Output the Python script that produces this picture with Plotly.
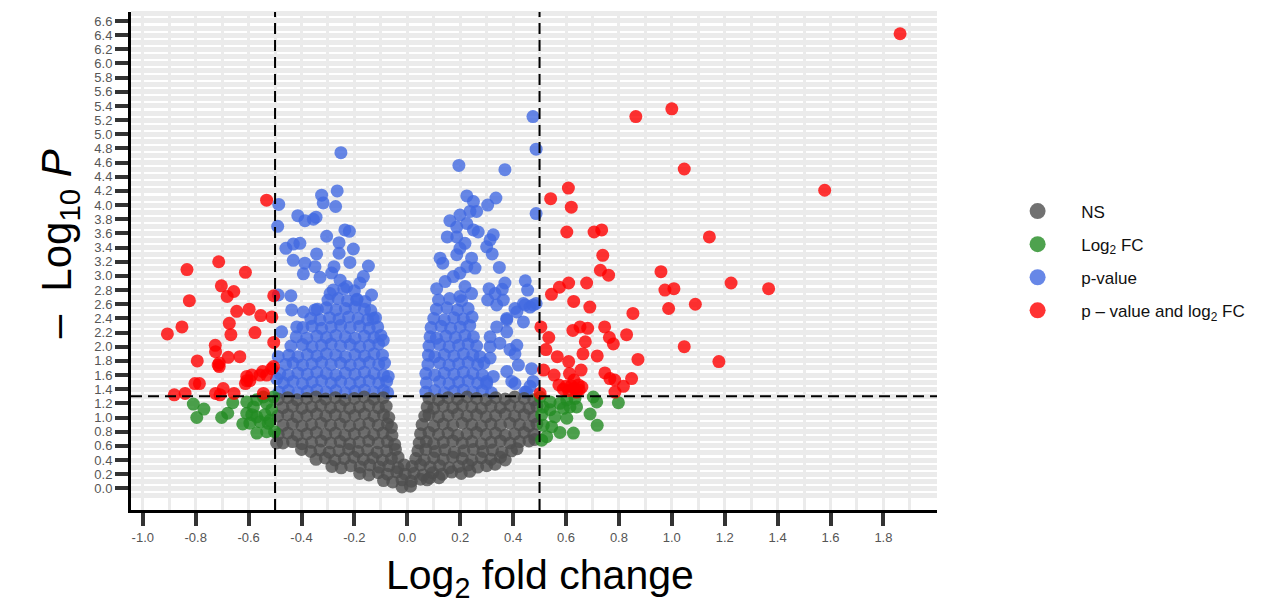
import plotly.graph_objects as go

# ---------------- data ----------------
fc_cutoff = 0.5
p_cutoff = 0.05
p_line = 1.30103  # -log10(0.05)

x_tick_vals = [-1.0, -0.8, -0.6, -0.4, -0.2, 0.0, 0.2, 0.4, 0.6, 0.8, 1.0, 1.2, 1.4, 1.6, 1.8]
x_tick_text = ["-1.0", "-0.8", "-0.6", "-0.4", "-0.2", "0.0", "0.2", "0.4", "0.6", "0.8",
               "1.0", "1.2", "1.4", "1.6", "1.8"]
y_tick_vals = [0.0, 0.2, 0.4, 0.6, 0.8, 1.0, 1.2, 1.4, 1.6, 1.8, 2.0, 2.2, 2.4, 2.6, 2.8, 3.0,
               3.2, 3.4, 3.6, 3.8, 4.0, 4.2, 4.4, 4.6, 4.8, 5.0, 5.2, 5.4, 5.6, 5.8, 6.0, 6.2,
               6.4, 6.6]
y_tick_text = ["0.0", "0.2", "0.4", "0.6", "0.8", "1.0", "1.2", "1.4", "1.6", "1.8", "2.0",
               "2.2", "2.4", "2.6", "2.8", "3.0", "3.2", "3.4", "3.6", "3.8", "4.0", "4.2",
               "4.4", "4.6", "4.8", "5.0", "5.2", "5.4", "5.6", "5.8", "6.0", "6.2", "6.4", "6.6"]

legend_names = ["NS", "Log<sub>2</sub> FC", "p-value", "p \u2013 value and log<sub>2</sub> FC"]
x_title = "Log<sub>2</sub> fold change"
y_title = "\u2013\u00a0\u00a0Log<sub>10</sub>\u00a0<i>P</i>"

# NS (grey): not significant
ns_points = [
    (-0.488, 1.26), (-0.452, 1.28), (-0.417, 1.25), (-0.380, 1.27), (-0.345, 1.29), (-0.309, 1.26),
    (-0.272, 1.28), (-0.236, 1.25), (-0.200, 1.27), (-0.163, 1.29), (-0.127, 1.26), (-0.091, 1.28),
    (-0.470, 1.14), (-0.434, 1.16), (-0.398, 1.13), (-0.362, 1.15), (-0.327, 1.17), (-0.290, 1.14),
    (-0.254, 1.16), (-0.218, 1.13), (-0.181, 1.15), (-0.145, 1.17), (-0.109, 1.14), (-0.080, 1.16),
    (-0.490, 1.02), (-0.452, 1.04), (-0.417, 1.01), (-0.380, 1.03), (-0.343, 1.05), (-0.308, 1.02),
    (-0.272, 1.04), (-0.236, 1.01), (-0.199, 1.03), (-0.162, 1.05), (-0.126, 1.02), (-0.090, 1.04),
    (-0.070, 1.00),
    (-0.470, 0.89), (-0.434, 0.91), (-0.398, 0.88), (-0.362, 0.90), (-0.326, 0.92), (-0.290, 0.89),
    (-0.254, 0.91), (-0.218, 0.88), (-0.181, 0.90), (-0.145, 0.92), (-0.110, 0.89), (-0.075, 0.91),
    (-0.060, 0.86),
    (-0.488, 0.76), (-0.452, 0.78), (-0.416, 0.75), (-0.380, 0.77), (-0.344, 0.79), (-0.308, 0.76),
    (-0.272, 0.78), (-0.236, 0.75), (-0.200, 0.77), (-0.163, 0.79), (-0.127, 0.76), (-0.092, 0.78),
    (-0.058, 0.75),
    (-0.494, 0.64), (-0.470, 0.64), (-0.434, 0.66), (-0.398, 0.63), (-0.362, 0.65), (-0.326, 0.67),
    (-0.290, 0.64), (-0.254, 0.66), (-0.218, 0.63), (-0.182, 0.65), (-0.146, 0.67), (-0.110, 0.64),
    (-0.075, 0.66), (-0.048, 0.62),
    (-0.400, 0.55), (-0.365, 0.52), (-0.330, 0.54), (-0.295, 0.51), (-0.258, 0.53), (-0.222, 0.55),
    (-0.186, 0.52), (-0.150, 0.54), (-0.114, 0.51), (-0.078, 0.53), (-0.045, 0.55),
    (-0.345, 0.41), (-0.310, 0.43), (-0.274, 0.40), (-0.238, 0.42), (-0.202, 0.44), (-0.166, 0.41),
    (-0.130, 0.43), (-0.094, 0.40), (-0.060, 0.42), (-0.035, 0.44),
    (-0.285, 0.31), (-0.250, 0.29), (-0.214, 0.32), (-0.178, 0.30), (-0.142, 0.33), (-0.106, 0.30),
    (-0.070, 0.32), (-0.035, 0.29), (-0.012, 0.33),
    (-0.180, 0.21), (-0.145, 0.19), (-0.110, 0.22), (-0.075, 0.20), (-0.040, 0.23), (-0.008, 0.20),
    (-0.090, 0.11), (-0.055, 0.09), (-0.020, 0.12), (0.015, 0.10), (0.050, 0.13), (0.085, 0.15),
    (-0.020, 0.02), (0.012, 0.03), (0.075, 0.12), (0.120, 0.15),
    (0.082, 1.27), (0.118, 1.25), (0.154, 1.28), (0.190, 1.26), (0.226, 1.29), (0.262, 1.27),
    (0.298, 1.25), (0.334, 1.28), (0.370, 1.26), (0.406, 1.29), (0.442, 1.27), (0.478, 1.25),
    (0.075, 1.15), (0.100, 1.13), (0.136, 1.16), (0.172, 1.14), (0.208, 1.17), (0.244, 1.15),
    (0.280, 1.13), (0.316, 1.16), (0.352, 1.14), (0.388, 1.17), (0.424, 1.15), (0.460, 1.13),
    (0.490, 1.16),
    (0.066, 1.02), (0.082, 1.04), (0.118, 1.01), (0.154, 1.03), (0.190, 1.05), (0.226, 1.02),
    (0.262, 1.04), (0.298, 1.01), (0.334, 1.03), (0.370, 1.05), (0.406, 1.02), (0.442, 1.04),
    (0.478, 1.01),
    (0.056, 0.90), (0.100, 0.88), (0.136, 0.91), (0.172, 0.89), (0.208, 0.92), (0.244, 0.90),
    (0.280, 0.88), (0.316, 0.91), (0.352, 0.89), (0.388, 0.92), (0.424, 0.90), (0.460, 0.88),
    (0.490, 0.91),
    (0.050, 0.77), (0.082, 0.79), (0.118, 0.76), (0.154, 0.78), (0.190, 0.75), (0.226, 0.77),
    (0.262, 0.79), (0.298, 0.76), (0.334, 0.78), (0.370, 0.75), (0.406, 0.77), (0.442, 0.79),
    (0.478, 0.76),
    (0.045, 0.64), (0.072, 0.66), (0.100, 0.63), (0.136, 0.65), (0.172, 0.67), (0.208, 0.64),
    (0.244, 0.66), (0.280, 0.63), (0.316, 0.65), (0.352, 0.67), (0.388, 0.64), (0.424, 0.66),
    (0.460, 0.67), (0.482, 0.69),
    (0.040, 0.53), (0.070, 0.55), (0.106, 0.52), (0.142, 0.54), (0.178, 0.51), (0.214, 0.53),
    (0.250, 0.55), (0.286, 0.52), (0.322, 0.54), (0.358, 0.51), (0.394, 0.53), (0.415, 0.56),
    (0.032, 0.42), (0.064, 0.40), (0.100, 0.43), (0.136, 0.41), (0.172, 0.44), (0.208, 0.42),
    (0.244, 0.40), (0.280, 0.43), (0.316, 0.41), (0.352, 0.44), (0.370, 0.40),
    (0.018, 0.31), (0.050, 0.33), (0.086, 0.30), (0.122, 0.32), (0.158, 0.29), (0.194, 0.31),
    (0.230, 0.33), (0.266, 0.30), (0.300, 0.32), (0.332, 0.34),
    (0.025, 0.21), (0.060, 0.19), (0.096, 0.22), (0.132, 0.20), (0.168, 0.23), (0.204, 0.21),
    (0.236, 0.24),
]

# Log2 FC only (green)
fc_points = [
    (-0.809, 1.19), (-0.769, 1.12), (-0.796, 1.00), (-0.702, 1.00), (-0.679, 1.06), (-0.660, 1.21),
    (-0.622, 0.91), (-0.607, 1.06), (-0.582, 1.15), (-0.569, 1.25), (-0.544, 1.29), (-0.532, 1.20),
    (-0.513, 1.11), (-0.569, 0.78), (-0.532, 0.80), (-0.502, 0.80), (-0.557, 0.94), (-0.526, 0.92),
    (-0.588, 1.04), (-0.569, 1.01), (-0.538, 1.04), (-0.519, 0.96), (-0.506, 1.29), (-0.595, 0.92),
    (-0.607, 1.22),
    (0.502, 1.29), (0.540, 1.22), (0.577, 1.20), (0.603, 1.25), (0.634, 1.27), (0.615, 1.15),
    (0.703, 1.29), (0.716, 1.22), (0.798, 1.21), (0.691, 1.05), (0.718, 0.89), (0.628, 0.78),
    (0.577, 0.79), (0.546, 0.87), (0.514, 0.89), (0.508, 1.04), (0.558, 1.01), (0.603, 0.99),
    (0.508, 0.68), (0.527, 0.73), (0.514, 1.15), (0.540, 1.11), (0.590, 1.13), (0.640, 1.15),
]

# p-value only (blue)
p_points = [
    (-0.485, 1.36), (-0.450, 1.38), (-0.414, 1.35), (-0.378, 1.37), (-0.342, 1.39), (-0.306, 1.36),
    (-0.270, 1.38), (-0.234, 1.35), (-0.198, 1.37), (-0.162, 1.39), (-0.126, 1.36), (-0.090, 1.38),
    (-0.074, 1.35),
    (-0.468, 1.49), (-0.432, 1.51), (-0.396, 1.48), (-0.360, 1.50), (-0.324, 1.52), (-0.288, 1.49),
    (-0.252, 1.51), (-0.216, 1.48), (-0.180, 1.50), (-0.144, 1.52), (-0.108, 1.49), (-0.078, 1.51),
    (-0.482, 1.62), (-0.450, 1.60), (-0.414, 1.63), (-0.378, 1.61), (-0.342, 1.64), (-0.306, 1.62),
    (-0.270, 1.60), (-0.234, 1.63), (-0.198, 1.61), (-0.162, 1.64), (-0.126, 1.62), (-0.090, 1.60),
    (-0.460, 1.75), (-0.432, 1.77), (-0.396, 1.74), (-0.360, 1.76), (-0.324, 1.78), (-0.288, 1.75),
    (-0.252, 1.77), (-0.216, 1.74), (-0.180, 1.76), (-0.144, 1.78), (-0.108, 1.75), (-0.086, 1.77),
    (-0.448, 1.88), (-0.414, 1.86), (-0.378, 1.89), (-0.342, 1.87), (-0.306, 1.90), (-0.270, 1.88),
    (-0.234, 1.86), (-0.198, 1.89), (-0.162, 1.87), (-0.126, 1.90), (-0.094, 1.88),
    (-0.440, 2.01), (-0.396, 2.03), (-0.360, 2.00), (-0.324, 2.02), (-0.288, 2.04), (-0.252, 2.01),
    (-0.216, 2.03), (-0.180, 2.00), (-0.144, 2.02), (-0.108, 2.04),
    (-0.420, 2.14), (-0.380, 2.12), (-0.342, 2.15), (-0.306, 2.13), (-0.270, 2.16), (-0.234, 2.14),
    (-0.198, 2.12), (-0.162, 2.15), (-0.126, 2.13), (-0.100, 2.16),
    (-0.395, 2.27), (-0.360, 2.29), (-0.324, 2.26), (-0.288, 2.28), (-0.252, 2.30), (-0.216, 2.27),
    (-0.180, 2.29), (-0.144, 2.26), (-0.112, 2.28),
    (-0.365, 2.40), (-0.330, 2.38), (-0.294, 2.41), (-0.258, 2.39), (-0.222, 2.42), (-0.186, 2.40),
    (-0.150, 2.38), (-0.120, 2.41),
    (-0.340, 2.53), (-0.306, 2.55), (-0.270, 2.52), (-0.234, 2.54), (-0.198, 2.56), (-0.162, 2.53),
    (-0.138, 2.51),
    (-0.300, 2.66), (-0.262, 2.68), (-0.226, 2.65), (-0.190, 2.67), (-0.160, 2.64),
    (-0.280, 2.80), (-0.240, 2.82), (-0.200, 2.79),
    (-0.251, 4.74), (-0.486, 4.01), (-0.490, 3.70), (-0.324, 4.14), (-0.265, 4.20), (-0.318, 4.03),
    (-0.271, 3.98), (-0.414, 3.85), (-0.387, 3.78), (-0.355, 3.80), (-0.345, 3.83), (-0.305, 3.56),
    (-0.236, 3.65), (-0.219, 3.63), (-0.258, 3.47), (-0.204, 3.38), (-0.459, 3.39), (-0.431, 3.45),
    (-0.406, 3.46), (-0.343, 3.31), (-0.258, 3.32), (-0.431, 3.22), (-0.387, 3.18), (-0.349, 3.13),
    (-0.393, 3.03), (-0.330, 2.98), (-0.217, 3.19), (-0.147, 3.14), (-0.277, 3.13), (-0.286, 3.04),
    (-0.254, 2.94), (-0.166, 2.99), (-0.179, 2.90), (-0.440, 2.72), (-0.488, 2.73), (-0.292, 2.75),
    (-0.229, 2.85), (-0.135, 2.73), (-0.191, 2.66), (-0.437, 2.52), (-0.393, 2.49), (-0.349, 2.52),
    (-0.129, 2.40), (-0.475, 2.21), (-0.418, 2.28), (-0.091, 2.09), (-0.488, 1.86), (-0.494, 1.55),
    (-0.072, 1.58),
    (0.070, 1.36), (0.104, 1.38), (0.140, 1.35), (0.176, 1.37), (0.212, 1.39), (0.248, 1.36),
    (0.284, 1.38), (0.318, 1.35),
    (0.072, 1.49), (0.122, 1.51), (0.158, 1.48), (0.194, 1.50), (0.230, 1.52), (0.266, 1.49),
    (0.300, 1.51),
    (0.070, 1.62), (0.104, 1.60), (0.140, 1.63), (0.176, 1.61), (0.212, 1.64), (0.248, 1.62),
    (0.284, 1.60),
    (0.078, 1.75), (0.122, 1.77), (0.158, 1.74), (0.194, 1.76), (0.230, 1.78), (0.266, 1.75),
    (0.290, 1.77),
    (0.080, 1.88), (0.104, 1.86), (0.140, 1.89), (0.176, 1.87), (0.212, 1.90), (0.248, 1.88),
    (0.275, 1.86),
    (0.082, 2.01), (0.122, 2.03), (0.158, 2.00), (0.194, 2.02), (0.230, 2.04), (0.262, 2.01),
    (0.086, 2.14), (0.110, 2.12), (0.146, 2.15), (0.182, 2.13), (0.218, 2.16), (0.250, 2.14),
    (0.090, 2.27), (0.128, 2.29), (0.164, 2.26), (0.200, 2.28), (0.236, 2.30),
    (0.100, 2.40), (0.140, 2.38), (0.176, 2.41), (0.212, 2.39), (0.245, 2.42),
    (0.110, 2.53), (0.150, 2.55), (0.190, 2.52), (0.230, 2.54),
    (0.118, 2.66), (0.160, 2.68), (0.205, 2.65),
    (0.475, 5.25), (0.487, 4.79), (0.195, 4.56), (0.369, 4.50), (0.487, 3.88), (0.225, 4.13),
    (0.250, 4.05), (0.335, 4.10), (0.304, 4.00), (0.199, 3.86), (0.237, 3.91), (0.262, 3.91),
    (0.161, 3.78), (0.187, 3.69), (0.225, 3.74), (0.250, 3.65), (0.268, 3.62), (0.151, 3.55),
    (0.187, 3.55), (0.218, 3.46), (0.199, 3.39), (0.325, 3.58), (0.313, 3.51), (0.300, 3.41),
    (0.321, 3.31), (0.124, 3.25), (0.134, 3.18), (0.187, 3.30), (0.243, 3.25), (0.225, 3.13),
    (0.256, 3.11), (0.348, 3.12), (0.111, 2.82), (0.143, 2.92), (0.174, 2.99), (0.199, 3.04),
    (0.218, 2.85), (0.243, 2.75), (0.199, 2.71), (0.309, 2.82), (0.332, 2.75), (0.359, 2.81),
    (0.369, 2.90), (0.304, 2.66), (0.338, 2.59), (0.363, 2.66), (0.446, 2.93), (0.455, 2.80),
    (0.407, 2.54), (0.439, 2.61), (0.464, 2.56), (0.487, 2.61), (0.376, 2.40), (0.414, 2.49),
    (0.439, 2.35), (0.338, 2.28), (0.376, 2.21), (0.313, 2.14), (0.407, 1.90), (0.420, 1.74),
    (0.376, 1.65), (0.395, 1.51), (0.470, 1.69), (0.476, 1.51), (0.451, 1.36), (0.313, 1.84),
    (0.325, 1.58), (0.300, 1.48), (0.313, 2.00), (0.350, 2.05), (0.376, 2.38), (0.414, 2.02),
    (0.388, 1.96), (0.407, 1.48), (0.445, 1.36), (0.464, 1.44), (0.445, 2.59), (0.476, 2.59),
]

# p-value and log2 FC (red)
both_points = [
    (1.863, 6.42), (1.047, 4.51), (0.609, 4.24), (0.542, 4.09), (0.620, 3.97), (0.603, 3.62),
    (0.706, 3.62), (0.735, 3.65), (1.142, 3.55), (0.739, 3.29), (0.730, 3.08), (0.761, 3.01),
    (0.959, 3.06), (0.545, 2.74), (0.575, 2.84), (0.610, 2.90), (0.678, 2.90), (0.974, 2.80),
    (1.008, 2.82), (1.224, 2.90), (1.366, 2.82), (0.629, 2.64), (0.690, 2.56), (0.988, 2.54),
    (1.089, 2.60), (0.853, 2.47), (0.505, 2.28), (0.626, 2.23), (0.653, 2.28), (0.682, 2.26),
    (0.746, 2.28), (0.829, 2.17), (0.535, 2.13), (0.673, 2.07), (0.764, 2.13), (0.779, 2.04),
    (1.047, 2.00), (0.524, 1.96), (0.567, 1.86), (0.664, 1.90), (0.718, 1.87), (0.872, 1.82),
    (1.178, 1.79), (0.610, 1.79), (0.515, 1.67), (0.555, 1.60), (0.613, 1.62), (0.657, 1.67),
    (0.747, 1.63), (0.766, 1.55), (0.848, 1.55), (0.817, 1.44), (0.784, 1.53), (0.573, 1.46),
    (0.590, 1.40), (0.610, 1.38), (0.630, 1.41), (0.650, 1.39), (0.660, 1.43), (0.600, 1.44),
    (0.640, 1.36), (0.620, 1.45), (0.785, 1.36), (0.502, 1.34), (0.647, 1.46), (0.630, 1.53),
    (1.578, 4.21), (1.000, 5.36), (0.864, 5.25),
    (-0.532, 4.07), (-0.713, 3.20), (-0.833, 3.09), (-0.612, 3.05), (-0.703, 2.86), (-0.656, 2.78),
    (-0.681, 2.71), (-0.824, 2.65), (-0.505, 2.72), (-0.645, 2.50), (-0.598, 2.53), (-0.554, 2.44),
    (-0.512, 2.42), (-0.673, 2.33), (-0.852, 2.28), (-0.907, 2.18), (-0.667, 2.17), (-0.576, 2.20),
    (-0.505, 2.06), (-0.726, 2.02), (-0.725, 1.93), (-0.677, 1.85), (-0.633, 1.86), (-0.711, 1.77),
    (-0.794, 1.80), (-0.711, 1.72), (-0.513, 1.69), (-0.547, 1.65), (-0.532, 1.60), (-0.588, 1.60),
    (-0.607, 1.52), (-0.803, 1.48), (-0.786, 1.48), (-0.840, 1.34), (-0.881, 1.32), (-0.725, 1.34),
    (-0.696, 1.41), (-0.708, 1.32), (-0.655, 1.34), (-0.544, 1.34), (-0.506, 1.72), (-0.557, 1.60),
    (-0.607, 1.58), (-0.595, 1.52), (-0.612, 1.48), (-0.715, 1.74),
]

# ---------------- styling ----------------
FONT = "Liberation Sans, Arial, sans-serif"
col_ns = "rgba(77,77,77,0.8)"
col_fc = "rgba(34,139,34,0.8)"
col_p = "rgba(65,105,225,0.8)"
col_both = "rgba(255,0,0,0.8)"
grid_col = "#ebebeb"
MS = 13

fig = go.Figure()

# legend-only entries (bigger symbols like the reference legend)
for nm, col in zip(legend_names, [col_ns, col_fc, col_p, col_both]):
    fig.add_trace(go.Scatter(
        x=[None], y=[None], mode="markers", name="\u00a0\u00a0\u00a0\u00a0\u00a0" + nm,
        legendgroup=nm, marker=dict(size=18, color=col), showlegend=True))


def add_points(points, col):
    xs = [p[0] for p in points]
    ys = [p[1] for p in points]
    fig.add_trace(go.Scatter(x=xs, y=ys, mode="markers", showlegend=False,
                             marker=dict(size=MS, color=col, line=dict(width=0)),
                             hoverinfo="x+y"))


add_points(p_points, col_p)
add_points(ns_points, col_ns)
add_points(fc_points, col_fc)
add_points(both_points, col_both)

dash_style = "11px,6px"
fig.add_shape(type="line", xref="x", yref="paper", x0=-fc_cutoff, x1=-fc_cutoff, y0=0, y1=1,
              line=dict(color="black", width=2, dash=dash_style), layer="above")
fig.add_shape(type="line", xref="x", yref="paper", x0=fc_cutoff, x1=fc_cutoff, y0=0, y1=1,
              line=dict(color="black", width=2, dash=dash_style), layer="above")
fig.add_shape(type="line", xref="paper", yref="y", x0=0, x1=1, y0=p_line, y1=p_line,
              line=dict(color="black", width=2, dash=dash_style), layer="above")

# y-axis title as a rotated annotation (placed like the reference)
fig.add_annotation(text=y_title, xref="paper", yref="paper", x=-0.089, y=0.534,
                   xanchor="center", yanchor="middle", textangle=-90, showarrow=False,
                   font=dict(size=42, family=FONT, color="black"))

# x-axis title as an annotation (placed like the reference)
fig.add_annotation(text=x_title, xref="paper", yref="paper", x=0.507, y=-0.081,
                   xanchor="center", yanchor="top", showarrow=False,
                   font=dict(size=41, family=FONT, color="black"))

# The page body adds an 8px offset; the figure size compensates for it.
fig.update_layout(
    width=1263, height=595,
    margin=dict(l=123, r=334, t=4, b=93),
    paper_bgcolor="white", plot_bgcolor="white",
    font=dict(family=FONT, color="black"),
    showlegend=True,
    legend=dict(x=1.10, y=0.5, xanchor="left", yanchor="middle",
                font=dict(size=17, family=FONT, color="#111111"),
                tracegroupgap=8, bgcolor="rgba(0,0,0,0)"),
    xaxis=dict(
        range=[-1.0446, 2.0026], tickmode="array", tickvals=x_tick_vals, ticktext=x_tick_text,
        showgrid=True, gridcolor=grid_col, gridwidth=3,
        minor=dict(tickmode="array",
                   tickvals=[-0.9, -0.7, -0.5, -0.3, -0.1, 0.1, 0.3, 0.5, 0.7, 0.9, 1.1, 1.3,
                             1.5, 1.7, 1.9],
                   showgrid=True, gridcolor=grid_col, gridwidth=3, ticks=""),
        zeroline=False, showline=True, linecolor="black", linewidth=3,
        ticks="outside", ticklen=13, tickwidth=4, tickcolor="#333333",
        tickfont=dict(size=13, color="#555555", family=FONT),
        automargin=False,
    ),
    yaxis=dict(
        range=[-0.306, 6.727], tickmode="array", tickvals=y_tick_vals, ticktext=y_tick_text,
        showgrid=True, gridcolor=grid_col, gridwidth=5,
        minor=dict(tickmode="array",
                   tickvals=[-0.1, 0.1, 0.3, 0.5, 0.7, 0.9, 1.1, 1.3, 1.5, 1.7, 1.9, 2.1, 2.3, 2.5,
                             2.7, 2.9, 3.1, 3.3, 3.5, 3.7, 3.9, 4.1, 4.3, 4.5, 4.7, 4.9, 5.1, 5.3,
                             5.5, 5.7, 5.9, 6.1, 6.3, 6.5, 6.7],
                   showgrid=True, gridcolor=grid_col, gridwidth=5, ticks=""),
        zeroline=False, showline=True, linecolor="black", linewidth=3,
        ticks="outside", ticklen=13, tickwidth=4, tickcolor="#333333",
        tickfont=dict(size=13, color="#555555", family=FONT),
        automargin=False,
    ),
)

fig.write_html("out.html")
